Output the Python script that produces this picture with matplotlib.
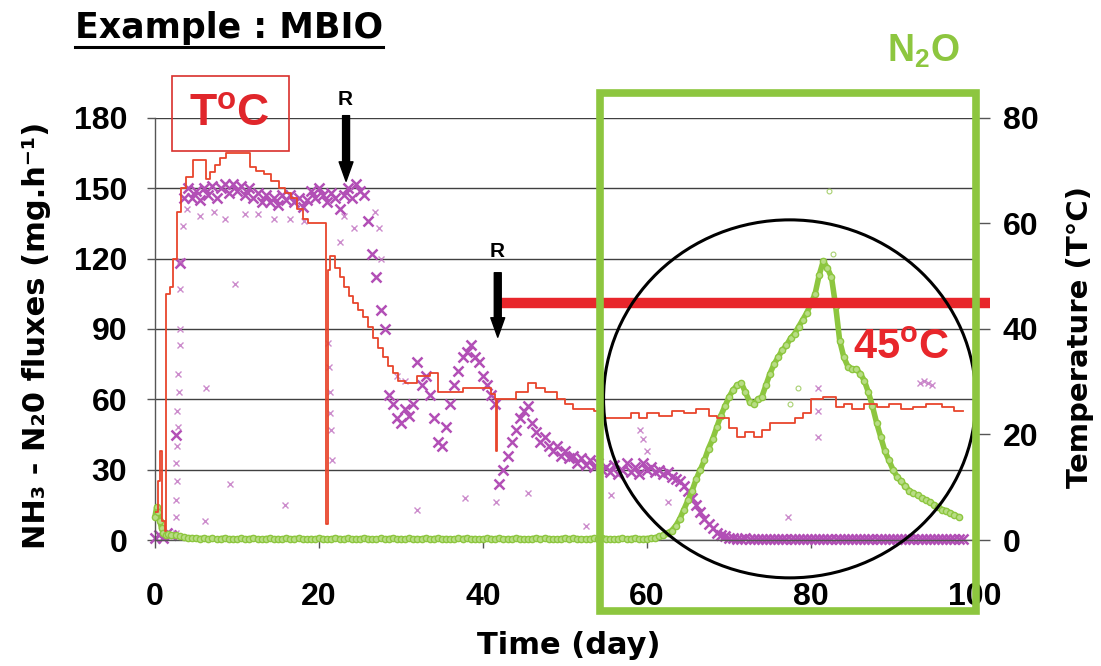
import numpy as np
import matplotlib
matplotlib.use('Agg')
import matplotlib.pyplot as plt
from matplotlib.patches import Rectangle, Ellipse
from matplotlib.lines import Line2D

# ---------------- data ----------------
x_ticks = [0, 20, 40, 60, 80, 100]
flux_ticks = [0, 30, 60, 90, 120, 150, 180]
temp_ticks = [0, 20, 40, 60, 80]

# NH3 flux (mg/h), sampled every 0.5 day
nh3_val = [1, 2, 1, 3, 2, 45, 118, 146, 150, 146,
           149, 145, 150, 147, 151, 146, 150, 152, 148, 152,
           149, 151, 147, 150, 146, 148, 144, 147, 144, 146,
           143, 147, 145, 147, 144, 146, 142, 145, 149, 146,
           150, 147, 144, 148, 146, 141, 147, 150, 146, 152,
           149, 147, 136, 122, 112, 98, 90, 62, 58, 52,
           50, 56, 53, 58, 76, 66, 70, 62, 52, 42,
           40, 48, 58, 66, 72, 78, 80, 83, 78, 76,
           70, 66, 62, 58, 24, 30, 36, 42, 47, 52,
           55, 57, 50, 46, 42, 44, 40, 38, 40, 36,
           38, 35, 36, 33, 35, 32, 34, 31, 33, 30,
           31, 29, 32, 28, 30, 33, 29, 31, 28, 33,
           30, 31, 29, 30, 28, 29, 27, 26, 25, 23,
           21, 18, 15, 12, 9, 7, 5, 3, 2, 1.5,
           1, 0.8, 0.6, 0.5, 0.7, 0.4, 0.6, 0.5, 0.3, 0.6,
           0.4, 0.6, 0.5, 0.3, 0.6, 0.5, 0.4, 0.6, 0.5, 0.3,
           0.5, 0.6, 0.4, 0.5, 0.6, 0.3, 0.5, 0.4, 0.6, 0.5,
           0.4, 0.5, 0.6, 0.3, 0.5, 0.6, 0.4, 0.5, 0.3, 0.6,
           0.5, 0.4, 0.6, 0.5, 0.3, 0.5, 0.6, 0.4, 0.5, 0.6,
           0.4, 0.5, 0.3, 0.6, 0.5, 0.4, 0.5, 0.6]
nh3_day = [i * 0.5 for i in range(len(nh3_val))]

# scattered NH3 readings
nh3_out_day = [2.5, 2.6, 2.5, 2.7, 2.6, 2.7, 2.8, 2.7, 2.9, 2.8, 3.0, 3.0, 3.1, 3.1,
               3.4, 3.9, 5.5, 7.2, 8.5, 9.7, 6.2, 9.1, 15.8, 6.1, 11.0, 12.5, 14.5,
               16.5, 18.2, 21.1, 21.2, 21.3, 21.4, 21.5, 21.6, 22.6, 23.0, 24.3,
               26.8, 27.3, 27.6, 29.5, 30.5, 32.0, 37.8, 41.6, 45.5, 52.6, 55.6,
               62.6, 77.2, 80.9, 80.9, 80.9, 59.2, 59.5, 60.0, 93.3, 93.8, 94.3, 94.8]
nh3_out_val = [3, 10, 17, 25, 33, 40, 48, 55, 63, 71, 83, 90, 107, 119,
               134, 141, 138, 140, 137, 109, 65, 24, 15, 8, 139, 139, 137,
               137, 136, 84, 74, 63, 54, 47, 34, 127, 138, 133,
               140, 133, 120, 70, 68, 13, 18, 16, 20, 6, 19,
               16, 10, 65, 55, 44, 47, 43, 38, 67, 68, 67, 66]

# N2O flux (mg/h)
n2o_early_day = [0.0, 0.2, 0.4, 0.6, 0.8, 1.0, 1.3, 1.6, 2.0, 2.5, 3.0, 3.5, 4.0, 4.5, 5.0]
n2o_early_val = [10, 14, 12, 8, 5, 3, 2, 2.5, 2, 2, 1.5, 1.2, 1, 1, 0.8]
n2o_flat_val = [0.6, 0.8, 0.5, 0.7, 0.4, 0.6, 0.8, 0.5, 0.6, 0.4,
                0.7, 0.5, 0.6, 0.8, 0.5, 0.4, 0.6, 0.7, 0.5, 0.6,
                0.4, 0.8, 0.5, 0.6, 0.7, 0.5, 0.4, 0.6, 0.5, 0.7,
                0.6, 0.4, 0.5, 0.8, 0.6, 0.5, 0.7, 0.4, 0.6, 0.5,
                0.8, 0.6, 0.5, 0.4, 0.7, 0.5, 0.6, 0.8, 0.5, 0.6,
                0.4, 0.7, 0.5, 0.6, 0.5, 0.8, 0.4, 0.6, 0.7, 0.5,
                0.6, 0.5, 0.4, 0.7, 0.6, 0.8, 0.5, 0.6, 0.4, 0.5,
                0.7, 0.6, 0.5, 0.8, 0.4, 0.6, 0.5, 0.7, 0.6, 0.5,
                0.4, 0.6, 0.8, 0.5, 0.7, 0.6, 0.5, 0.4, 0.6, 0.8,
                0.5, 0.7, 0.6, 0.5, 0.4, 0.6, 0.7, 0.5, 0.8, 0.6,
                0.5, 0.4, 0.6, 0.7, 0.5, 0.6, 0.8, 0.5, 0.6]
n2o_flat_day = [5.5 + i * 0.5 for i in range(len(n2o_flat_val))]
n2o_peak_val = [0.6, 0.8, 1, 1.5, 2, 3, 4, 6, 9, 13,
                17, 21, 26, 30, 34, 39, 43, 48, 53, 57,
                61, 64, 66, 67, 63, 59, 58, 60, 61, 66,
                71, 75, 78, 81, 83, 86, 88, 91, 94, 97,
                101, 105, 113, 119, 116, 112, 100, 85, 78, 74,
                73, 73, 71, 68, 63, 57, 50, 44, 38, 34,
                30, 27, 25, 23, 21, 20, 19, 18, 17, 16,
                15, 14, 13, 12.5, 11.5, 10.5, 10]
n2o_peak_day = [60 + i * 0.5 for i in range(len(n2o_peak_val))]
n2o_day = n2o_early_day + n2o_flat_day + n2o_peak_day
n2o_val = n2o_early_val + n2o_flat_val + n2o_peak_val
n2o_out_day = [77.4, 78.4, 82.2, 82.7]
n2o_out_val = [58, 65, 149, 122]

# Temperature (deg C), step series
temp_day = [0.0, 0.4, 0.6, 0.8, 1.2, 1.3, 1.8, 2.2, 2.7, 3.2, 3.8, 4.6, 6.2, 6.7, 7.3,
            7.9, 8.6, 11.6, 12.3, 13.3, 14.2, 15.1, 15.9, 16.6, 17.3, 18.0, 18.7, 20.8,
            20.9, 21.1, 21.4, 22.0, 22.5, 23.0, 23.6, 24.2, 24.8, 25.4, 26.0, 26.6, 27.2,
            27.8, 28.4, 29.0, 29.6, 30.5, 32.0, 33.5, 34.5, 37.5, 40.5, 41.0, 41.5, 41.6,
            41.7, 43.5, 44.0, 45.5, 46.5, 47.5, 49.0, 50.0, 51.0, 53.5, 54.5, 57.0, 58.0,
            59.0, 60.0, 61.5, 63.0, 64.5, 66.0, 67.5, 68.5, 70.0, 71.0, 72.0, 73.0, 74.0,
            75.0, 76.5, 78.0, 79.0, 80.0, 81.5, 83.0, 84.0, 85.0, 86.5, 88.0, 89.5, 91.0,
            92.5, 94.0, 96.0, 97.5, 98.5]
temp_c = [5.3, 11.1, 16.9, 3.6, 1.8, 46.7, 48.0, 53.3, 62.2, 66.7, 68.9, 72.0, 68.4, 69.8, 71.1,
          72.4, 73.3, 70.7, 70.0, 69.3, 68.0, 66.7, 65.8, 64.9, 62.7, 60.9, 60.0, 60.0,
          3.1, 51.1, 53.8, 51.6, 49.8, 48.0, 46.2, 44.9, 43.6, 42.2, 40.4, 38.2, 36.4,
          34.7, 32.9, 31.6, 30.2, 29.8, 31.1, 31.6, 28.0, 28.9, 28.9, 27.6, 26.7, 16.9,
          26.7, 26.7, 28.0, 29.8, 28.9, 28.0, 26.7, 25.8, 24.9, 24.4, 23.1, 23.1, 24.0,
          23.1, 24.0, 23.6, 24.4, 24.0, 24.9, 23.6, 23.1, 21.3, 19.6, 20.4, 19.6, 20.9,
          22.2, 22.2, 23.1, 24.0, 26.7, 27.1, 25.3, 25.8, 24.9, 25.8, 25.3, 25.8, 24.9,
          25.3, 25.8, 25.3, 24.4, 24.4]

target_temp = 45
target_start = 41.8

# ---------------- styling ----------------
plt.rcParams['font.family'] = ['Liberation Sans', 'DejaVu Sans']
plt.rcParams['font.weight'] = 'bold'
plt.rcParams['mathtext.fontset'] = 'custom'
plt.rcParams['mathtext.rm'] = 'Liberation Sans:bold'
plt.rcParams['mathtext.it'] = 'Liberation Sans:bold'
plt.rcParams['mathtext.bf'] = 'Liberation Sans:bold'

W, H = 1101, 666
fig = plt.figure(figsize=(W / 100, H / 100), dpi=100)
ax = fig.add_axes([155 / W, 126 / H, 820 / W, 422 / H])
ax.set_xlim(0, 100)
ax.set_ylim(0, 180)
ax.set_xticks(x_ticks)
ax.set_yticks(flux_ticks)
ax.yaxis.grid(True, color='#404040', lw=1)
ax.set_axisbelow(True)
for s in ['top', 'right']:
    ax.spines[s].set_visible(False)
for s in ['left', 'bottom']:
    ax.spines[s].set_color('#555555')
    ax.spines[s].set_linewidth(1)
ax.tick_params(axis='y', direction='out', length=6, width=1, color='#555555', pad=14, labelsize=23)
ax.tick_params(axis='x', direction='out', length=6, width=1, color='#555555', pad=24, labelsize=23)

ax2 = ax.twinx()
ax2.set_ylim(0, 80)
ax2.set_yticks(temp_ticks)
for s in ax2.spines.values():
    s.set_visible(False)
ax2.tick_params(axis='y', direction='out', length=11, width=1, color='#555555', pad=9, labelsize=23)

# NH3
ax.plot(nh3_day, nh3_val, ls='none', marker='x', color='#b24fb6', ms=6.5, mew=1.8, zorder=2, clip_on=False)
ax.plot(nh3_out_day, nh3_out_val, ls='none', marker='x', color='#c070c0', ms=4, mew=1.0, zorder=2, alpha=0.8)
# N2O
ax.plot(n2o_day, n2o_val, color='#8dc63f', lw=4, zorder=3, clip_on=False, solid_capstyle='round')
ax.plot(n2o_day, n2o_val, ls='none', marker='o', ms=4.5, mfc='#b8dd85', mec='#8dc63f', mew=1, zorder=3, clip_on=False)
ax.plot(n2o_out_day, n2o_out_val, ls='none', marker='o', ms=3.5, mfc='none', mec='#a8d070', mew=0.8, zorder=3)

# Temperature
ax2.step(temp_day, temp_c, where='post', color='#e8452c', lw=1.3, zorder=3)
ax2.plot([target_start, 101.8], [target_temp, target_temp], color='#e8262b', lw=7.5,
         solid_capstyle='butt', clip_on=False, zorder=4)

# green box and circle
ax2.add_patch(Rectangle((54.3, -30.3), 45.8, 221, transform=ax.transData, fill=False,
                        ec='#8dc63f', lw=5.5, clip_on=False, zorder=6))
ax2.add_patch(Ellipse((77.4, 60.2), 45.4, 152.7, transform=ax.transData, fill=False,
                      ec='black', lw=2.2, clip_on=False, zorder=5))

# T°C box
ax2.add_patch(Rectangle((2.07, 166), 14.23, 32, transform=ax.transData, fill=False,
                        ec='#d9302c', lw=1.2, clip_on=False, zorder=5))
ax2.text(9.1, 181.5, r'T$^{\rm o}$C', transform=ax.transData, color='#e0262b', fontsize=32,
         fontweight='bold', ha='center', va='center', zorder=6)
ax2.text(91.0, 82, r'45$^{\rm o}$C', transform=ax.transData, color='#e8262b', fontsize=30,
         fontweight='bold', ha='center', va='center', zorder=6)

# R arrows
for xa, yt, ytip, yl in [(23.3, 181, 153, 188), (41.8, 114, 86.5, 123)]:
    ax2.text(xa - 0.1, yl, 'R', transform=ax.transData, fontsize=15, fontweight='bold',
             ha='center', va='center', zorder=6)
    ax2.annotate('', xy=(xa, ytip), xytext=(xa, yt), xycoords=ax.transData, textcoords=ax.transData,
                 arrowprops=dict(arrowstyle='simple,head_length=1.4,head_width=1.0,tail_width=0.5',
                                 color='black', mutation_scale=10, shrinkA=0, shrinkB=0),
                 annotation_clip=False, zorder=6)

# N2O label
fig.text(923 / W, 1 - 51 / H, r'N$_{\rm 2}$O', color='#8dc63f', fontsize=27, fontweight='bold',
         ha='center', va='center')

# axis labels
ax.text(-0.144, 0.486, 'NH₃ - N₂0 fluxes (mg.h⁻¹)', transform=ax.transAxes, rotation=90,
        ha='center', va='center', family='DejaVu Sans', fontweight='bold', fontsize=22)
ax.text(1.128, 0.481, 'Temperature (T°C)', transform=ax.transAxes, rotation=90,
        ha='center', va='center', family='DejaVu Sans', fontweight='bold', fontsize=21)
ax.text(0.504, -0.249, 'Time (day)', transform=ax.transAxes, ha='center', va='center',
        family='DejaVu Sans', fontweight='bold', fontsize=22)

# title with underline
t = fig.text(75 / W, 1 - 38 / H, 'Example : MBIO', family='DejaVu Sans', fontweight='bold',
             fontsize=25, va='baseline', ha='left')
fig.canvas.draw()
bb = t.get_window_extent()
fig.add_artist(Line2D([bb.x0 / W, bb.x1 / W], [1 - 47 / H, 1 - 47 / H], transform=fig.transFigure,
                      color='black', lw=2.2))

fig.savefig('out.png', dpi=100)
